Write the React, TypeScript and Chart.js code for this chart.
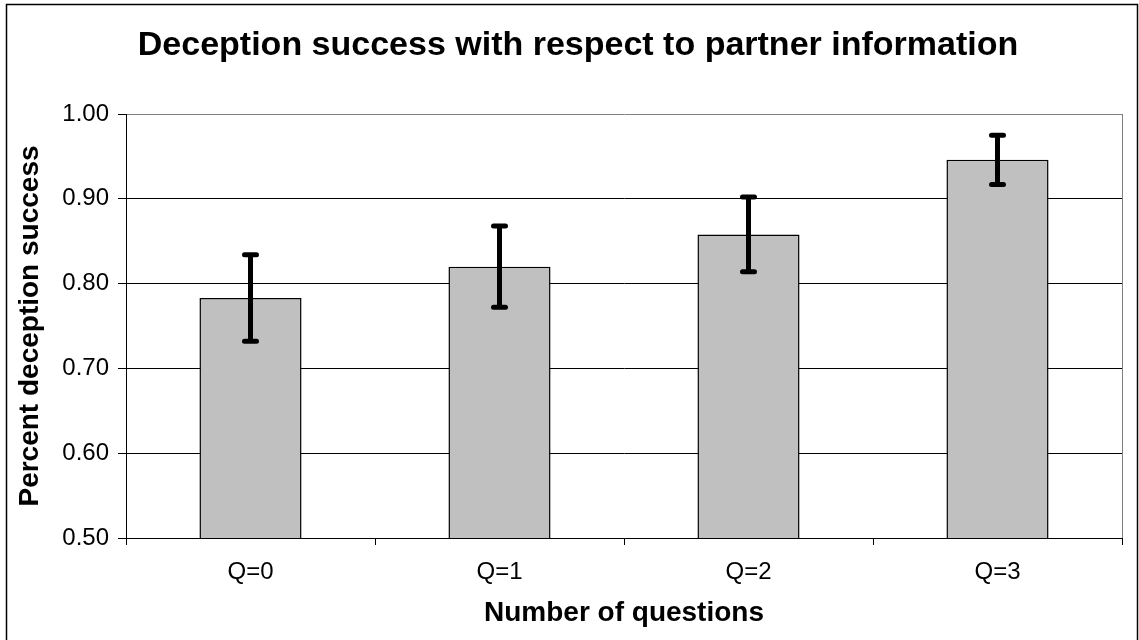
import React, { useEffect, useRef } from 'react';
import { Chart, registerables } from 'chart.js';

Chart.register(...registerables);

const categories = ['Q=0', 'Q=1', 'Q=2', 'Q=3'];
const successRates = [0.783, 0.82, 0.858, 0.946];
const errorMargins = [0.051, 0.048, 0.044, 0.029];
const yMin = 0.5;
const yMax = 1.0;
const yStep = 0.1;
const chartTitle = 'Deception success with respect to partner information';
const xTitle = 'Number of questions';
const yTitle = 'Percent deception success';

const FONT = "'Liberation Sans', Arial, Helvetica, sans-serif";
const W = 1139;
const H = 640;

const errorBarPlugin = {
  id: 'errorBars',
  afterDatasetsDraw(chart: any) {
    const ctx = chart.ctx;
    const meta = chart.getDatasetMeta(0);
    const yScale = chart.scales.y;
    ctx.save();
    ctx.strokeStyle = '#000';
    ctx.lineWidth = 5;
    ctx.lineCap = 'round';
    meta.data.forEach((bar: any, i: number) => {
      const v = successRates[i];
      const e = errorMargins[i];
      const x = bar.x;
      const top = yScale.getPixelForValue(v + e);
      const bot = yScale.getPixelForValue(v - e);
      ctx.beginPath();
      ctx.moveTo(x, top);
      ctx.lineTo(x, bot);
      ctx.moveTo(x - 6, top);
      ctx.lineTo(x + 6, top);
      ctx.moveTo(x - 6, bot);
      ctx.lineTo(x + 6, bot);
      ctx.stroke();
    });
    ctx.restore();
  },
};

const framePlugin = {
  id: 'frame',
  afterDraw(chart: any) {
    const ctx = chart.ctx;
    const a = chart.chartArea;
    ctx.save();
    ctx.strokeStyle = '#808080';
    ctx.lineWidth = 1;
    ctx.beginPath();
    ctx.moveTo(Math.round(a.right) + 0.5, a.top);
    ctx.lineTo(Math.round(a.right) + 0.5, a.bottom);
    ctx.stroke();
    ctx.strokeStyle = '#000';
    ctx.lineWidth = 1.5;
    ctx.strokeRect(6.5, 4.5, 1131, 640);
    ctx.restore();
  },
};

export default function App() {
  const canvasRef = useRef<HTMLCanvasElement | null>(null);

  useEffect(() => {
    document.body.style.margin = '0';
    const canvas = canvasRef.current;
    if (!canvas) return;
    const chart = new Chart(canvas, {
      type: 'bar',
      data: {
        labels: categories,
        datasets: [
          {
            data: successRates,
            backgroundColor: '#c0c0c0',
            borderColor: '#000000',
            borderWidth: 1.5,
            barPercentage: 0.41,
            categoryPercentage: 1,
          },
        ],
      },
      options: {
        animation: false,
        responsive: false,
        devicePixelRatio: 1,
        layout: { padding: { left: 34, right: 17, top: 0, bottom: 0 } },
        plugins: {
          legend: { display: false },
          tooltip: { enabled: false },
          title: {
            display: true,
            text: chartTitle,
            color: '#000',
            font: { family: FONT, size: 34, weight: 'bold', lineHeight: 1.2 },
            padding: { top: 25.6, bottom: 47.6 },
          },
        },
        scales: {
          x: {
            afterFit: (scale: any) => {
              scale.height = 102;
            },
            grid: {
              display: true,
              drawOnChartArea: false,
              drawTicks: true,
              tickLength: 7,
              tickColor: '#000',
              offset: true,
            },
            border: { display: true, color: '#000', width: 1 },
            ticks: {
              color: '#000',
              font: { family: FONT, size: 24, lineHeight: 1.2 },
              padding: 12.6,
              maxRotation: 0,
            },
            title: {
              display: true,
              text: xTitle,
              color: '#000',
              font: { family: FONT, size: 28, weight: 'bold', lineHeight: 1.2 },
              padding: { top: 0, bottom: 10.2 },
            },
          },
          y: {
            min: yMin,
            max: yMax,
            afterFit: (scale: any) => {
              scale.width = 92;
            },
            grid: {
              color: (c: any) => (c.tick && Math.abs(c.tick.value - yMax) < 1e-6 ? '#808080' : '#000'),
              lineWidth: 1,
              tickLength: 8,
              tickColor: '#000',
            },
            border: { display: true, color: '#000', width: 1 },
            ticks: {
              stepSize: yStep,
              color: '#000',
              font: { family: FONT, size: 24, lineHeight: 1.2 },
              padding: 9,
              callback: (v: any) => Number(v).toFixed(2),
            },
            title: {
              display: true,
              text: yTitle,
              color: '#000',
              font: { family: FONT, size: 28, weight: 'bold', lineHeight: 1.2 },
              padding: { top: -20.8, bottom: 0 },
            },
          },
        },
      } as any,
      plugins: [errorBarPlugin, framePlugin],
    });
    return () => chart.destroy();
  }, []);

  return (
    <div style={{ width: W, height: H, background: '#fff' }}>
      <canvas ref={canvasRef} width={W} height={H} style={{ display: 'block', width: W, height: H }} />
    </div>
  );
}
